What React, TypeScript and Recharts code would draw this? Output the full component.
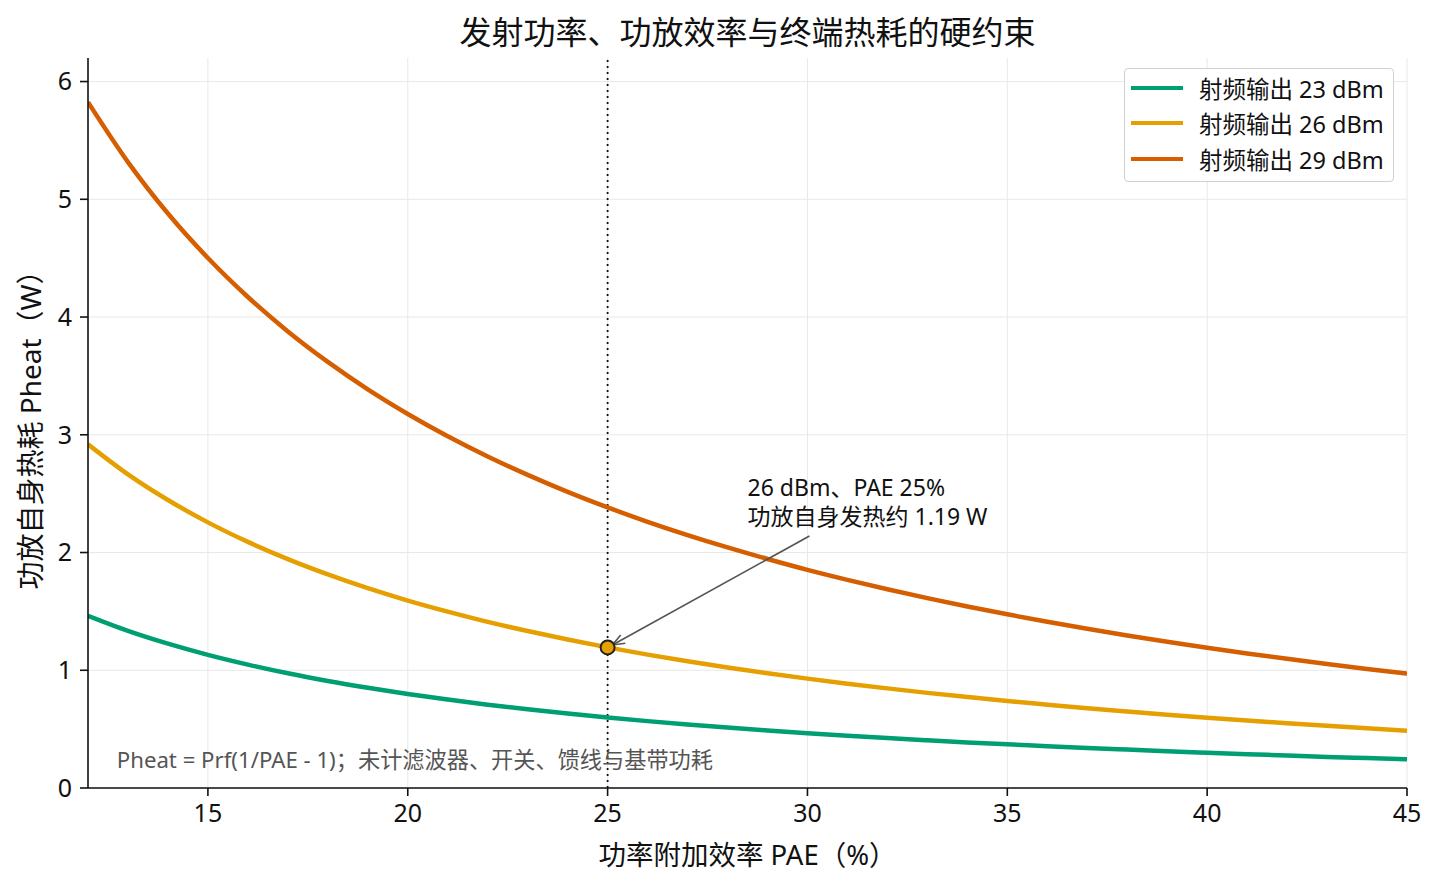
import {
  LineChart,
  Line,
  XAxis,
  YAxis,
  CartesianGrid,
  ReferenceLine,
  ReferenceDot,
} from 'recharts';

// PAE (%) sampled along the x axis
const pae = [
  12, 13, 14, 15, 16, 17, 18, 19, 20, 21, 22, 23, 24, 25, 26, 27, 28,
  29, 30, 31, 32, 33, 34, 35, 36, 37, 38, 39, 40, 41, 42, 43, 44, 45,
];

// Pheat (W)
const heat23 = [
  1.463, 1.335, 1.226, 1.131, 1.048, 0.974, 0.909, 0.851, 0.798, 0.751,
  0.707, 0.668, 0.632, 0.599, 0.568, 0.539, 0.513, 0.489, 0.466, 0.444,
  0.424, 0.405, 0.387, 0.371, 0.355, 0.34, 0.326, 0.312, 0.299, 0.287,
  0.276, 0.264, 0.254, 0.244,
];
const heat26 = [
  2.919, 2.664, 2.446, 2.256, 2.09, 1.944, 1.814, 1.697, 1.592, 1.498,
  1.411, 1.333, 1.261, 1.194, 1.133, 1.076, 1.024, 0.975, 0.929, 0.886,
  0.846, 0.808, 0.773, 0.739, 0.708, 0.678, 0.65, 0.623, 0.597, 0.573,
  0.55, 0.528, 0.507, 0.487,
];
const heat29 = [
  5.825, 5.316, 4.879, 4.501, 4.17, 3.878, 3.619, 3.386, 3.177, 2.988,
  2.816, 2.659, 2.515, 2.383, 2.261, 2.148, 2.043, 1.945, 1.853, 1.768,
  1.688, 1.613, 1.542, 1.475, 1.412, 1.352, 1.296, 1.242, 1.191, 1.143,
  1.097, 1.053, 1.011, 0.971,
];

const xTicks = [15, 20, 25, 30, 35, 40, 45];
const yTicks = [0, 1, 2, 3, 4, 5, 6];

const series = [
  { key: 'p23', name: '射频输出 23 dBm', color: '#009E73' },
  { key: 'p26', name: '射频输出 26 dBm', color: '#E69F00' },
  { key: 'p29', name: '射频输出 29 dBm', color: '#D55E00' },
];

const data = pae.map((x, i) => ({
  pae: x,
  p23: heat23[i],
  p26: heat26[i],
  p29: heat29[i],
}));

const FONT = "'Noto Sans', 'Noto Sans CJK SC', sans-serif";

function LegendBox() {
  return (
    <div
      style={{
        position: 'absolute',
        left: 1124,
        top: 68,
        width: 270,
        height: 114,
        boxSizing: 'border-box',
        border: '1.5px solid #d0d0d0',
        borderRadius: 4,
        background: 'rgba(255,255,255,0.9)',
        padding: '1px 0 0 6px',
        fontFamily: FONT,
        fontSize: 23.5,
        color: '#111',
      }}
    >
      {series.map((s) => (
        <div
          key={s.key}
          style={{ display: 'flex', alignItems: 'center', height: 35.5 }}
        >
          <span
            style={{
              display: 'inline-block',
              width: 52,
              height: 4,
              background: s.color,
              marginRight: 16,
            }}
          />
          <span style={{ whiteSpace: 'nowrap' }}>{s.name}</span>
        </div>
      ))}
    </div>
  );
}

function Arrow(props: any) {
  const { x1, y1, x2, y2 } = props;
  const ang = Math.atan2(y2 - y1, x2 - x1);
  const len = 13;
  const spread = 0.38;
  const ax = x2 - len * Math.cos(ang - spread);
  const ay = y2 - len * Math.sin(ang - spread);
  const bx = x2 - len * Math.cos(ang + spread);
  const by = y2 - len * Math.sin(ang + spread);
  return (
    <g stroke="#555" strokeWidth={1.6} fill="none">
      <line x1={x1} y1={y1} x2={x2} y2={y2} />
      <polyline points={`${ax},${ay} ${x2},${y2} ${bx},${by}`} />
    </g>
  );
}

function NoteLabel(props: any) {
  const { viewBox } = props;
  return (
    <g fontFamily={FONT} fontSize={23} fill="#111">
      <text x={viewBox.x} y={viewBox.y - 1}>
        26 dBm、PAE 25%
      </text>
      <text x={viewBox.x} y={viewBox.y + 28}>
        功放自身发热约 1.19 W
      </text>
    </g>
  );
}

function FormulaLabel(props: any) {
  const { viewBox } = props;
  return (
    <text
      x={viewBox.x}
      y={viewBox.y}
      fontFamily={FONT}
      fontSize={22.2}
      fill="#555"
    >
      Pheat = Prf(1/PAE - 1)；未计滤波器、开关、馈线与基带功耗
    </text>
  );
}

export default function App() {
  return (
    <div
      style={{
        position: 'absolute',
        left: 0,
        top: 0,
        width: 1440,
        height: 889,
        background: '#fff',
        fontFamily: FONT,
      }}
    >
      <div
        style={{
          position: 'absolute',
          left: 88,
          width: 1319,
          top: 7,
          textAlign: 'center',
          fontSize: 32,
          color: '#111',
        }}
      >
        发射功率、功放效率与终端热耗的硬约束
      </div>
      <LineChart
        width={1440}
        height={889}
        data={data}
        margin={{ top: 58, right: 33, bottom: 19, left: 16 }}
      >
        <CartesianGrid
          stroke="#e8e8e8"
          strokeWidth={1}
          horizontalValues={yTicks}
          verticalValues={xTicks}
        />
        <XAxis
          dataKey="pae"
          type="number"
          domain={[12, 45]}
          ticks={xTicks}
          allowDataOverflow
          height={82}
          stroke="#111"
          strokeWidth={1.6}
          tickSize={8}
          tickMargin={8}
          tick={{ fill: '#111', fontSize: 25, fontFamily: FONT }}
          label={{
            value: '功率附加效率 PAE（%）',
            position: 'insideBottom',
            offset: 5,
            fill: '#111',
            fontSize: 27.5,
            fontFamily: FONT,
          }}
        />
        <YAxis
          type="number"
          domain={[0, 6.2]}
          ticks={yTicks}
          allowDataOverflow
          width={72}
          stroke="#111"
          strokeWidth={1.6}
          tickSize={8}
          tickMargin={8}
          tick={{ fill: '#111', fontSize: 25, fontFamily: FONT }}
          label={{
            value: '功放自身热耗 Pheat（W）',
            angle: -90,
            position: 'insideLeft',
            offset: 15,
            style: { textAnchor: 'middle' },
            fill: '#111',
            fontSize: 28,
            fontFamily: FONT,
          }}
        />
        <ReferenceLine
          x={25}
          stroke="#111"
          strokeWidth={1.8}
          strokeDasharray="2 4"
        />
        {series.map((s) => (
          <Line
            key={s.key}
            dataKey={s.key}
            name={s.name}
            type="monotone"
            stroke={s.color}
            strokeWidth={4.5}
            dot={false}
            activeDot={false}
            isAnimationActive={false}
          />
        ))}
        <ReferenceLine
          segment={[
            { x: 30.05, y: 2.14 },
            { x: 25.12, y: 1.215 },
          ]}
          shape={<Arrow />}
        />
        <ReferenceDot
          x={25}
          y={1.194}
          r={7}
          fill="#E69F00"
          stroke="#222"
          strokeWidth={2}
        />
        <ReferenceDot
          x={28.5}
          y={2.47}
          r={0}
          fill="none"
          stroke="none"
          label={<NoteLabel />}
        />
        <ReferenceDot
          x={12.72}
          y={0.17}
          r={0}
          fill="none"
          stroke="none"
          label={<FormulaLabel />}
        />
      </LineChart>
      <LegendBox />
    </div>
  );
}
